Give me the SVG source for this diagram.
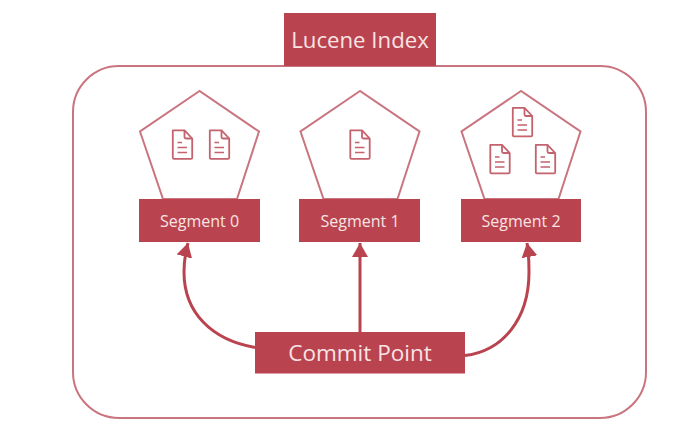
<svg xmlns="http://www.w3.org/2000/svg" width="697" height="439" viewBox="0 0 697 439">
<style>
.box{fill:#b9434f}
.out{fill:#fff;stroke:#c9747e;stroke-width:2;stroke-linejoin:miter}
.lbl{font-family:"Open Sans","Noto Sans","Liberation Sans",sans-serif;fill:#f8e4e4;text-anchor:middle}
.con{fill:none;stroke:#b9434f;stroke-width:3}
.doc{fill:none;stroke:#c4626d;stroke-width:1.8;stroke-linejoin:round}
.doc2{fill:none;stroke:#c4626d;stroke-width:1.4}
</style>
<defs>
<g id="doc">
<path class="doc" d="M0.8 0.8H12.5L20.2 9V28.2C20.2 29 19.8 29.4 19 29.4H2C1.2 29.4 .8 29 .8 28.2Z"/>
<path class="doc" d="M12.5 .8V7.5C12.5 8.5 13 9 14 9H20.2"/>
<path class="doc2" d="M5.5 13H10M5.5 18H15M5.5 23H15"/>
</g>
<marker id="ah" markerUnits="userSpaceOnUse" markerWidth="16" markerHeight="16" refX="14" refY="8" orient="auto">
<path d="M0 0L14 8L0 16Z" fill="#b9434f"/>
</marker>
</defs>
<rect width="697" height="439" fill="#fff"/>
<g id="index-frame"><rect x="73" y="66" width="573" height="352" rx="46" ry="46" fill="#fff" stroke="#c9747e" stroke-width="2"/></g>
<g id="lucene-index"><rect class="box" x="284" y="13" width="152" height="53"/><text class="lbl" x="360" y="48" font-size="22.2">Lucene Index</text></g>
<g id="connectors">
<path class="con" marker-end="url(#ah)" d="M255 347.500C212 340 184 313 184 272C184 262 185 254 188 243"/>
<path class="con" marker-end="url(#ah)" d="M360 332V243"/>
<path class="con" marker-end="url(#ah)" d="M465 355.500C502 351 529 320 529 272C529 262 529 254 527 243"/>
</g>
<g id="segment-0">
<polygon class="out" points="199.500,91 140,131.500 163,199 237,199 259,131.500"/>
<use href="#doc" x="172" y="129.500"/><use href="#doc" x="209" y="129.500"/>
<rect class="box" x="139" y="199" width="121" height="43"/><text class="lbl" x="199.500" y="227" font-size="16">Segment 0</text>
</g>
<g id="segment-1">
<polygon class="out" points="360,91 300.500,131.500 323.500,199 397.500,199 419.500,131.500"/>
<use href="#doc" x="349.500" y="129.500"/>
<rect class="box" x="299" y="199" width="121" height="43"/><text class="lbl" x="360" y="227" font-size="16">Segment 1</text>
</g>
<g id="segment-2">
<polygon class="out" points="521,91 461.500,131.500 484.500,199 558.500,199 580.500,131.500"/>
<use href="#doc" x="512" y="107"/><use href="#doc" x="489.500" y="144"/><use href="#doc" x="535" y="144"/>
<rect class="box" x="461" y="199" width="120" height="43"/><text class="lbl" x="521" y="227" font-size="16">Segment 2</text>
</g>
<g id="commit-point"><rect class="box" x="255" y="332" width="210" height="41.500"/><text class="lbl" x="360" y="361" font-size="22.500">Commit Point</text></g>
</svg>
